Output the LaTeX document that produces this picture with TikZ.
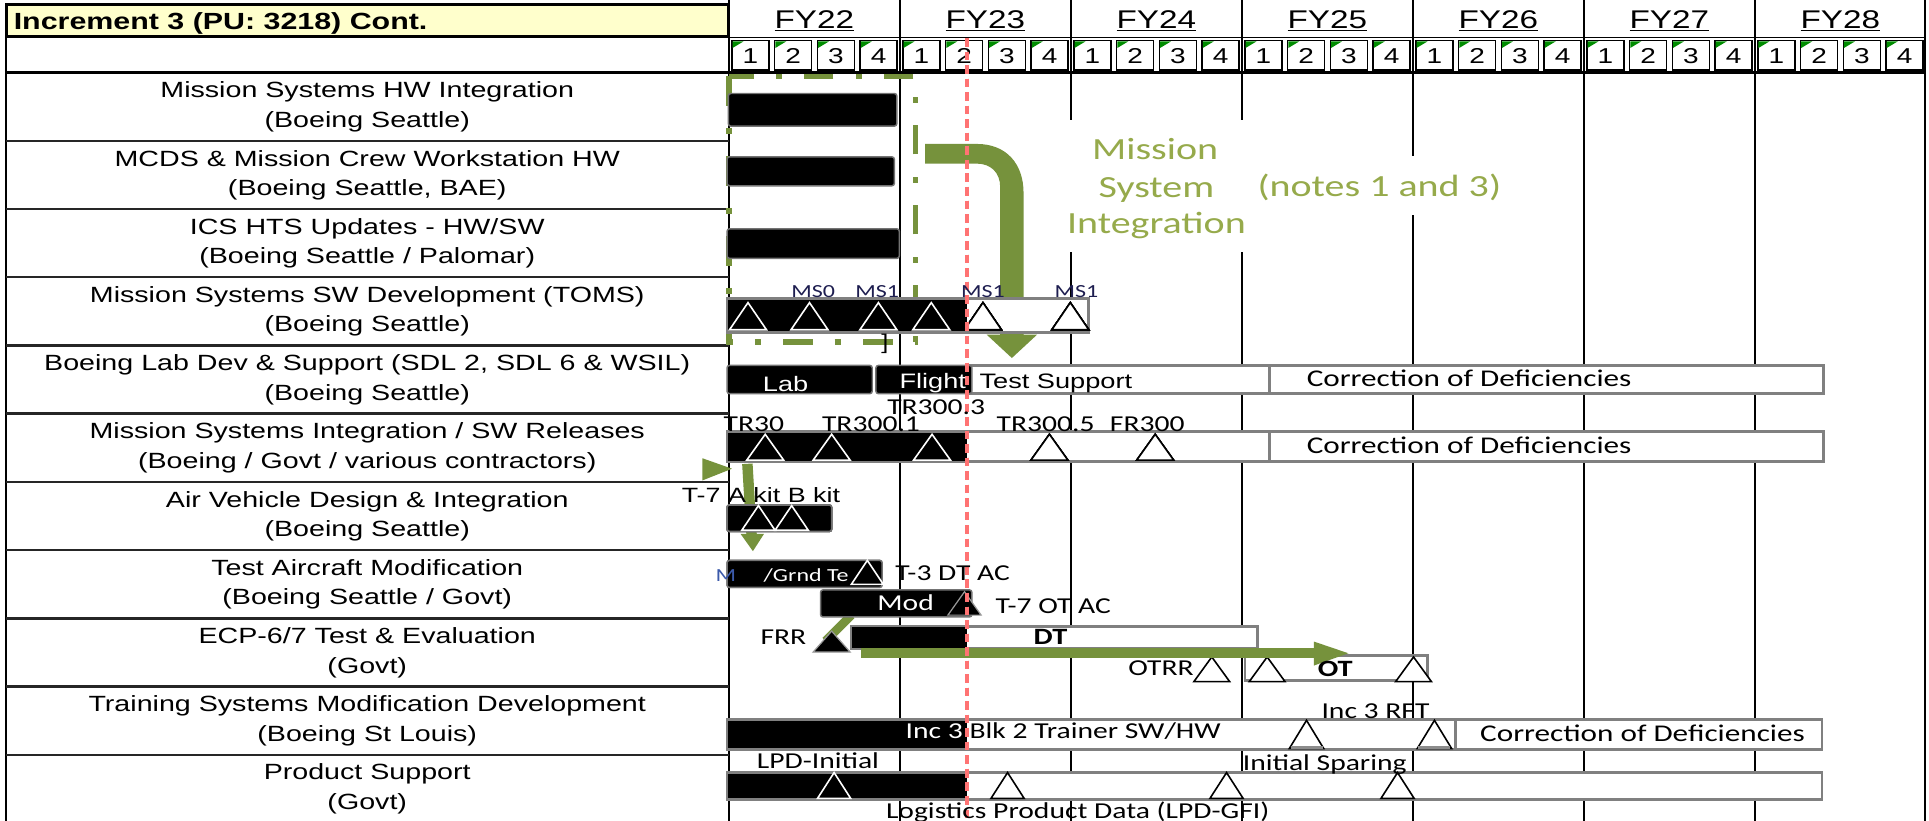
\documentclass[tikz,border=0pt]{standalone}
\usepackage{fontspec}
\setmainfont{Liberation Sans}[FakeStretch=1.3]
\newfontfamily\calfont{Carlito}[FakeStretch=1.3]
\definecolor{ogreen}{RGB}{118,146,60}
\definecolor{otext}{RGB}{150,170,75}
\definecolor{qgreen}{RGB}{0,140,0}
\definecolor{redl}{RGB}{255,115,115}
\definecolor{ylw}{RGB}{255,255,204}
\definecolor{msc}{RGB}{30,30,80}
\definecolor{mblue}{RGB}{60,90,170}
\newcommand\fs[1]{\fontsize{#1}{#1}\selectfont}
\newcommand\tri[5]{\draw[#1] ({#2-#4},#3) -- (#2,{#3-#5}) -- ({#2+#4},#3) -- cycle;}
\newcommand\rowlab[3]{%
  \node[lbl] (r#1a) at (298.5,{59+55.45*(#1-1)+20.5}) {#2};
  \node[lbl] (r#1b) at (298.5,{59+55.45*(#1-1)+44.5}) {#3};}
\begin{document}
\begin{tikzpicture}[x=1pt,y=-1pt,
  t/.style={inner sep=0pt,anchor=base west},
  tm/.style={inner sep=0pt,anchor=base},
  lbl/.style={inner sep=0pt,anchor=base,font=\fs{17.9}},
  cl/.style={t,font=\calfont\fs{18.5}},
  cod/.style={t,font=\calfont\fs{19.5}},
  bb/.style={fill=black,draw=black!55,line width=1.2pt,rounded corners=2pt},
  wb/.style={fill=white,draw=black!50,line width=2.4pt},
  wt/.style={draw=white,line width=1.3pt},
  bt/.style={draw=black,fill=white,line width=1.3pt},
  kt/.style={draw=black!40,fill=black,line width=1pt},
  fyl/.style={black,line width=1.5pt},
  gd/.style={ogreen,line width=4.5pt,dash pattern=on 24pt off 18pt on 5pt off 18pt}]
\useasboundingbox (0,0) rectangle (1568,667);
\fill[white] (0,0) rectangle (1568,667);
% year lines
\foreach \k in {1,...,6} \draw[fyl] ({592.5+138.98*\k},0) -- ({592.5+138.98*\k},667);
\draw[line width=1.5pt] (1565,0) -- (1565,667);
\draw[line width=2pt] (592.5,0) -- (592.5,667);
% white masks behind note text
\fill[white] (858,97.5) rectangle (1020,204.5);
\fill[white] (1020,127) rectangle (1220,175);
% header
\draw[line width=1.3pt] (592.5,30.5) -- (1565,30.5);
\draw[line width=3pt] (5,59) -- (1565,59);
\foreach \q in {0,...,27}{
  \pgfmathsetmacro\xa{592.5+34.745*\q}
  \pgfmathtruncatemacro\dd{mod(\q,4)+1}
  \draw[line width=1.2pt] ({\xa+2.5},33) rectangle ({\xa+32.5},57);
  \fill[qgreen] ({\xa+3},33.6) -- ({\xa+12},33.6) -- ({\xa+3},39) -- cycle;
  \node[tm,font=\fs{17.5}] (q\q) at ({\xa+17.5},51.5) {\dd};
}
\foreach \k/\y in {0/22,1/23,2/24,3/25,4/26,5/27,6/28}
  \node[tm,font=\fs{20.8}] (fy\y) at ({592.5+138.98*(\k+0.5)},23) {\underline{FY\y}};
\draw[line width=2.5pt,fill=ylw] (5,4) rectangle (592.5,30);
\node[t,font=\bfseries\fs{19}] (hdr) at (11,24) {Increment 3 (PU: 3218) Cont.};
% left column
\draw[line width=2pt] (5,4) -- (5,667);
\foreach \i in {1,...,10} \draw[line width=2pt,black!85] (5,{59+55.45*\i}) -- (592.5,{59+55.45*\i});
\rowlab{1}{Mission Systems HW Integration}{(Boeing Seattle)}
\rowlab{2}{MCDS \& Mission Crew Workstation HW}{(Boeing Seattle, BAE)}
\rowlab{3}{ICS HTS Updates - HW/SW}{(Boeing Seattle / Palomar)}
\rowlab{4}{Mission Systems SW Development (TOMS)}{(Boeing Seattle)}
\rowlab{5}{Boeing Lab Dev \& Support (SDL 2, SDL 6 \& WSIL)}{(Boeing Seattle)}
\rowlab{6}{Mission Systems Integration / SW Releases}{(Boeing / Govt / various contractors)}
\rowlab{7}{Air Vehicle Design \& Integration}{(Boeing Seattle)}
\rowlab{8}{Test Aircraft Modification}{(Boeing Seattle / Govt)}
\rowlab{9}{ECP-6/7 Test \& Evaluation}{(Govt)}
\rowlab{10}{Training Systems Modification Development}{(Boeing St Louis)}
\rowlab{11}{Product Support}{(Govt)}
% green graphics (behind bars)
\draw[gd] (592.5,62) rectangle (744,278);
\fill[ogreen] (752,117) -- (794,117) .. controls (818,117) and (832,133) .. (832,157) -- (832,272) -- (843,272) -- (822.5,291) -- (802,272) -- (813,272) -- (813,152) .. controls (813,140) and (805,133) .. (794,133) -- (752,133) -- cycle;
\fill[ogreen] (571,372.5) -- (595,381) -- (571,390.5) -- cycle;
\draw[ogreen,line width=8.5pt] (607.5,377) -- (611,436);
\fill[ogreen] (602,434) -- (621,434) -- (612,448) -- cycle;
\draw[ogreen,line width=7pt] (692,500) -- (671,521);
% row 1-3 bars
\draw[bb] (592,76) rectangle (729,102.5);
\draw[bb] (591,127.5) rectangle (727,151);
\draw[bb] (591,186) rectangle (731,210);
% row 4
\draw[wb] (591,243) rectangle (885,270);
\fill[black] (592,244) rectangle (786,269);
\foreach \c in {608,658,714,757} \tri{wt}{\c}{268}{15}{22}
\foreach \c in {799,870} \tri{bt}{\c}{268}{15}{22}
% row 5
\draw[wb] (787,297) rectangle (1482,320);
\draw[black!50,line width=2.4pt] (1032,297) -- (1032,320);
\draw[bb] (591,297) rectangle (709,320);
\draw[bb] (712,297) rectangle (790,320);
% row 6
\draw[wb] (591,351) rectangle (1482,375.5);
\fill[black] (592,352) rectangle (786,374.5);
\draw[black!50,line width=2.4pt] (1032,351) -- (1032,375.5);
\foreach \c in {622,676,757.6} \tri{wt}{\c}{374}{15}{21}
\foreach \c in {853,939} \tri{bt}{\c}{374}{15}{21}
% row 7
\draw[bb] (591,410.5) rectangle (676,432);
\foreach \c in {616.5,643.5} \tri{wt}{\c}{431}{13.5}{20}
% row 8
\draw[bb] (591,455.5) rectangle (717,477.5);
\tri{wt}{705}{475}{13}{19.5}
\draw[bb] (667,479.5) rectangle (790,501.5);
\tri{kt}{784}{500}{13.5}{19}
% row 9
\draw[wb] (692,509) rectangle (1022,527);
\fill[black] (692.5,509.5) rectangle (786,526.5);
\tri{kt}{676}{530}{15}{17}
\draw[wb] (1012,533) rectangle (1160,553);
\foreach \c in {985,1030,1149} \tri{bt}{\c}{554}{14.5}{20}
\draw[ogreen,line width=8pt] (700,531) -- (1072,531);
\fill[ogreen] (1068,521.5) -- (1096,531) -- (1068,541) -- cycle;
% row 10
\draw[wb] (591,585) rectangle (1481,609);
\fill[black] (592,586) rectangle (786,608);
\draw[black!50,line width=2.4pt] (1183,585) -- (1183,609);
\foreach \c in {1062,1166} \tri{bt}{\c}{608.5}{14}{23}
\foreach \c in {1062,1166} \draw[black!45,line width=2.5pt] ({\c-13},607.5) -- ({\c+13},607.5);
% row 11
\draw[wb] (591,628) rectangle (1481,649.5);
\fill[black] (592,629) rectangle (786,648.5);
\tri{wt}{678}{649}{13.5}{21}
\foreach \c in {819,997,1136} \tri{bt}{\c}{649}{13.5}{21}
% today line
\draw[redl,line width=2.5pt,dash pattern=on 7pt off 4pt] (786,31) -- (786,667);
% chart texts
\node[t,font=\calfont\fs{15},msc] (ms0) at (643,242) {MS0};
\node[t,font=\calfont\fs{15},msc] (ms1a) at (695,242) {MS1};
\node[t,font=\calfont\fs{15},msc] (ms1b) at (781,242) {MS1};
\node[t,font=\calfont\fs{15},msc] (ms1c) at (857,242) {MS1};
\node[cl] (brk) at (715,285) {]};
\node[t,font=\fs{17},white] (lab) at (620,318) {Lab};
\node[t,font=\fs{17},white] (flt) at (731,316) {Flight};
\node[t,font=\fs{17}] (tsup) at (796,316) {Test Support};
\node[cod] (cod1) at (1062,314) {Correction of Deficiencies};
\node[cl] (tr3) at (721,337) {TR300.3};
\node[cl] (tr0) at (588,351) {TR30};
\node[cl] (tr1) at (668,351) {TR300.1};
\node[cl] (tr5) at (810,351) {TR300.5};
\node[cl] (fr3) at (902,351) {FR300};
\node[cod] (cod2) at (1062,369) {Correction of Deficiencies};
\node[t,font=\fs{16.8}] (kits) at (554,408.3) {T-7 A kit B kit};
\node[t,font=\calfont\fs{15},mblue] (mg) at (581.5,473) {M};
\node[t,font=\calfont\fs{15},white] (grnd) at (620.6,473) {/Grnd Te};
\node[cl] (t3) at (727.6,472) {T-3 DT AC};
\node[cl,white] (mod) at (713,496) {Mod};
\node[cl] (t7) at (809,499) {T-7 OT AC};
\node[cl] (frr) at (618,524) {FRR};
\node[t,font=\calfont\bfseries\fs{19}] (dt) at (840,524) {DT};
\node[cl] (otrr) at (917,549) {OTRR};
\node[t,font=\calfont\bfseries\fs{19}] (ot) at (1071,550) {OT};
\node[cl] (rft) at (1074,584) {Inc 3 RFT};
\node[cl] (trn) at (736,600) {\textcolor{white}{Inc 3 }Blk 2 Trainer SW/HW};
\node[cod] (cod3) at (1203,603) {Correction of Deficiencies};
\node[cl] (lpdi) at (615,625) {LPD-Initial};
\node[cl] (isp) at (1010,626) {Initial Sparing};
\node[cl] (lpdg) at (720,665) {Logistics Product Data (LPD-GFI)};
% note text
\node[tm,font=\calfont\fs{25},otext] (msi1) at (939,130) {Mission};
\node[tm,font=\calfont\fs{25},otext] (msi2) at (940,160.5) {System};
\node[tm,font=\calfont\fs{25},otext] (msi3) at (940,190) {Integration};
\node[t,font=\calfont\fs{25},otext] (notes) at (1022,160) {(notes 1 and 3)};
\end{tikzpicture}
\end{document}
